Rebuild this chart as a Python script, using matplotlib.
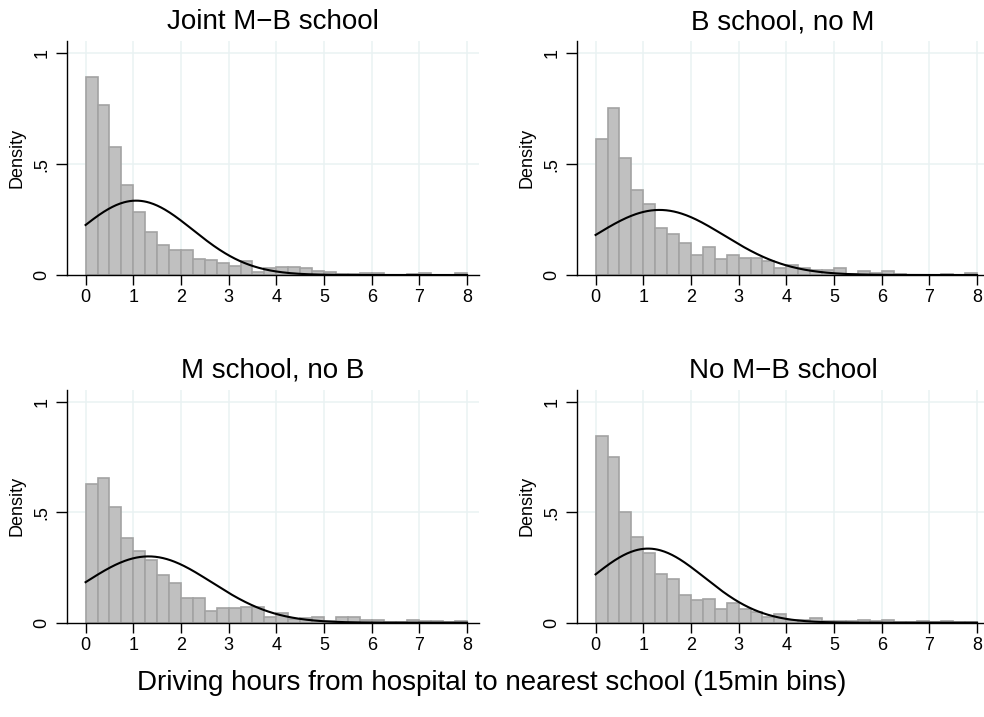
import numpy as np
import matplotlib
matplotlib.use("Agg")
import matplotlib.pyplot as plt

plt.rcParams['font.family'] = ['Liberation Sans', 'DejaVu Sans']

# ---- data ----
bin_width = 0.25
bin_edges = np.arange(0, 8.0001, bin_width)
titles = ["Joint M\u2212B school", "B school, no M", "M school, no B", "No M\u2212B school"]

dens_joint = [0.893, 0.765, 0.575, 0.405, 0.283, 0.194, 0.137, 0.114, 0.114, 0.074, 0.068,
              0.053, 0.041, 0.065, 0.015, 0.030, 0.035, 0.035, 0.030, 0.020, 0.012, 0.003,
              0.006, 0.008, 0.008, 0.002, 0.002, 0.004, 0.007, 0.002, 0.002, 0.009]
dens_b_only = [0.613, 0.755, 0.526, 0.381, 0.319, 0.214, 0.184, 0.146, 0.089, 0.128, 0.072,
               0.090, 0.075, 0.075, 0.065, 0.030, 0.045, 0.030, 0.024, 0.023, 0.030, 0.005,
               0.017, 0.011, 0.018, 0.003, 0.002, 0.002, 0.002, 0.004, 0.002, 0.011]
dens_m_only = [0.627, 0.656, 0.525, 0.385, 0.326, 0.285, 0.216, 0.179, 0.110, 0.113, 0.054,
               0.065, 0.067, 0.069, 0.069, 0.024, 0.045, 0.015, 0.020, 0.024, 0.006, 0.027,
               0.024, 0.012, 0.011, 0.003, 0.002, 0.011, 0.006, 0.006, 0.003, 0.008]
dens_none = [0.846, 0.748, 0.501, 0.386, 0.315, 0.219, 0.196, 0.125, 0.101, 0.106, 0.060,
             0.089, 0.062, 0.047, 0.024, 0.038, 0.012, 0.012, 0.020, 0.008, 0.009, 0.006,
             0.014, 0.006, 0.014, 0.003, 0.003, 0.006, 0.002, 0.006, 0.002, 0.005]
densities = [dens_joint, dens_b_only, dens_m_only, dens_none]

# fitted normal overlay (mean, sd) per group
normal_mean = [1.06, 1.34, 1.32, 1.10]
normal_sd = [1.19, 1.36, 1.33, 1.19]

xticks = [0, 1, 2, 3, 4, 5, 6, 7, 8]
yticks = [0, 0.5, 1]
yticklabels = ["0", ".5", "1"]
xlabel = "Driving hours from hospital to nearest school (15min bins)"

# ---- figure ----
W, H = 984, 717
fig = plt.figure(figsize=(W / 100, H / 100), dpi=100)
fig.patch.set_facecolor("white")

# pixel boxes: left, top, right, bottom
boxes = [(67, 41, 479, 275), (577, 41, 989, 275),
         (67, 389.5, 479, 622.7), (577, 389.5, 989, 622.7)]

grid_color = "#eaf2f3"
for i, (l, t, r, b) in enumerate(boxes):
    ax = fig.add_axes([l / W, 1 - b / H, (r - l) / W, (b - t) / H])
    ax.set_xlim(-0.39, 8.25)
    ax.set_ylim(0, 1.055)
    for gx in xticks:
        ax.axvline(gx, color=grid_color, lw=1.1, zorder=0)
    for gy in yticks[1:]:
        ax.axhline(gy, color=grid_color, lw=1.1, zorder=0)
    ax.bar(bin_edges[:-1], densities[i], width=bin_width, align="edge",
           color="#c0c0c0", edgecolor="#a3a3a3", linewidth=1.2, zorder=2)
    xs = np.linspace(0, 8, 400)
    mu, sd = normal_mean[i], normal_sd[i]
    ys = np.exp(-0.5 * ((xs - mu) / sd) ** 2) / (sd * np.sqrt(2 * np.pi))
    ax.plot(xs, ys, color="black", lw=1.5, zorder=3)

    for s in ["top", "right"]:
        ax.spines[s].set_visible(False)
    for s in ["left", "bottom"]:
        ax.spines[s].set_color("black")
        ax.spines[s].set_linewidth(1.0)
        ax.spines[s].set_zorder(4)
    ax.set_xticks(xticks)
    ax.set_xticklabels([str(v) for v in xticks])
    ax.set_yticks(yticks)
    ax.set_yticklabels(yticklabels, rotation=90, va="center")
    ax.tick_params(axis="x", length=7, width=1, labelsize=13, pad=3)
    ax.tick_params(axis="y", length=8, width=1, labelsize=13, pad=4)
    ax.set_ylabel("Density", fontsize=13)
    ax.yaxis.set_label_coords(-0.10, 0.5)
    ax.set_title(titles[i], fontsize=20, pad=8.5)

fig.text(0.5, 1 - 683 / H, xlabel, ha="center", va="center", fontsize=20)

fig.savefig("out.png", dpi=100)
